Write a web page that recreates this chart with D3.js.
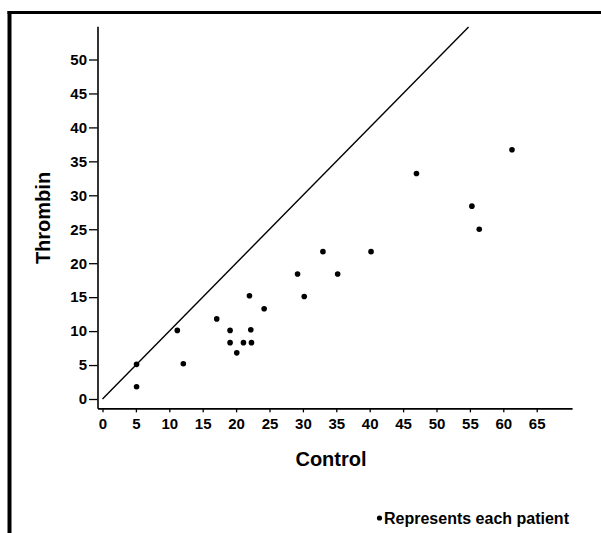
<!DOCTYPE html>
<html>
<head>
<meta charset="utf-8">
<script src="https://cdn.jsdelivr.net/npm/d3@7"></script>
<style>
  body { margin: 0; background: #fff; }
  svg { display: block; font-family: "Liberation Sans", Arial, Helvetica, sans-serif; font-weight: bold; }
</style>
</head>
<body>
<svg id="chart" width="601" height="533"></svg>
<script>
// values (control vs thrombin, one per patient)
const controlValues  = [5.1, 5.1, 11.2, 12.1, 17.1, 19.1, 19.1, 20.1, 21.1, 22.0, 22.2, 22.3, 24.2, 29.2, 30.2, 33.0, 35.2, 40.2, 47.0, 55.3, 56.4, 61.3]
const thrombinValues = [5.1, 1.8, 10.1, 5.2, 11.8, 10.1, 8.3, 6.8, 8.3, 15.2, 10.2, 8.3, 13.3, 18.4, 15.1, 21.7, 18.4, 21.7, 33.2, 28.4, 25.0, 36.7]
const xTicks = [0, 5, 10, 15, 20, 25, 30, 35, 40, 45, 50, 55, 60, 65]
const yTicks = [0, 5, 10, 15, 20, 25, 30, 35, 40, 45, 50]
const identityLine = [0, 54.8]   // line of equality, thrombin = control
const xLabel = 'Control'
const yLabel = 'Thrombin'
const noteText = 'Represents each patient'

const svg = d3.select('#chart')

// frame (top and left rules of the figure box)
svg.append('line').attr('x1', 7.5).attr('x2', 601).attr('y1', 12.5).attr('y2', 12.5)
    .attr('stroke', '#000').attr('stroke-width', 3)
svg.append('line').attr('x1', 9.5).attr('x2', 9.5).attr('y1', 11).attr('y2', 533)
    .attr('stroke', '#000').attr('stroke-width', 4)

const x = d3.scaleLinear().domain([0, 65]).range([102.5, 536.7])
const y = d3.scaleLinear().domain([0, 50]).range([399, 59.5])

// axes are drawn a bit off the origin, like in the print
const xMin = -0.75, xMax = 70.3
const yMin = -1.38, yMax = 54.9
const xAxisScale = x.copy().domain([xMin, xMax]).range([x(xMin), x(xMax)])
const yAxisScale = y.copy().domain([yMin, yMax]).range([y(yMin), y(yMax)])

const xAxis = svg.append('g')
    .attr('transform', `translate(0,${y(yMin)})`)
    .call(d3.axisBottom(xAxisScale).tickValues(xTicks).tickSize(4).tickSizeOuter(0).tickPadding(6))
const yAxis = svg.append('g')
    .attr('transform', `translate(${x(xMin)},0)`)
    .call(d3.axisLeft(yAxisScale).tickValues(yTicks).tickSize(8.5).tickSizeOuter(0).tickPadding(2))

svg.selectAll('.domain').attr('stroke-width', 1.6)
svg.selectAll('.tick line').attr('stroke-width', 1.3)
svg.selectAll('.tick text')
    .attr('font-family', '"Liberation Sans", Arial, sans-serif')
    .attr('font-weight', 'bold')
    .attr('font-size', 15)
    .attr('fill', '#000')

// line of equality
svg.append('line')
    .attr('x1', x(identityLine[0])).attr('y1', y(identityLine[0]))
    .attr('x2', x(identityLine[1])).attr('y2', y(identityLine[1]))
    .attr('stroke', '#000').attr('stroke-width', 1.4)

// one dot per patient
svg.selectAll('circle.pt')
    .data(controlValues.map((c, i) => ({control: c, thrombin: thrombinValues[i]})))
    .enter()
    .append('circle')
    .attr('class', 'pt')
    .attr('cx', d => x(d.control))
    .attr('cy', d => y(d.thrombin))
    .attr('r', 2.8)
    .style('fill', '#000')

// axis titles
svg.append('text')
    .attr('x', 331).attr('y', 466)
    .attr('text-anchor', 'middle')
    .attr('font-size', 20)
    .text(xLabel)
svg.append('text')
    .attr('transform', 'translate(50,218) rotate(-90)')
    .attr('text-anchor', 'middle')
    .attr('font-size', 20)
    .text(yLabel)

// note at the bottom
svg.append('circle').attr('cx', 379.5).attr('cy', 518).attr('r', 2.6).style('fill', '#000')
svg.append('text')
    .attr('x', 384).attr('y', 523.5)
    .attr('font-size', 16)
    .text(noteText)
</script>
</body>
</html>
